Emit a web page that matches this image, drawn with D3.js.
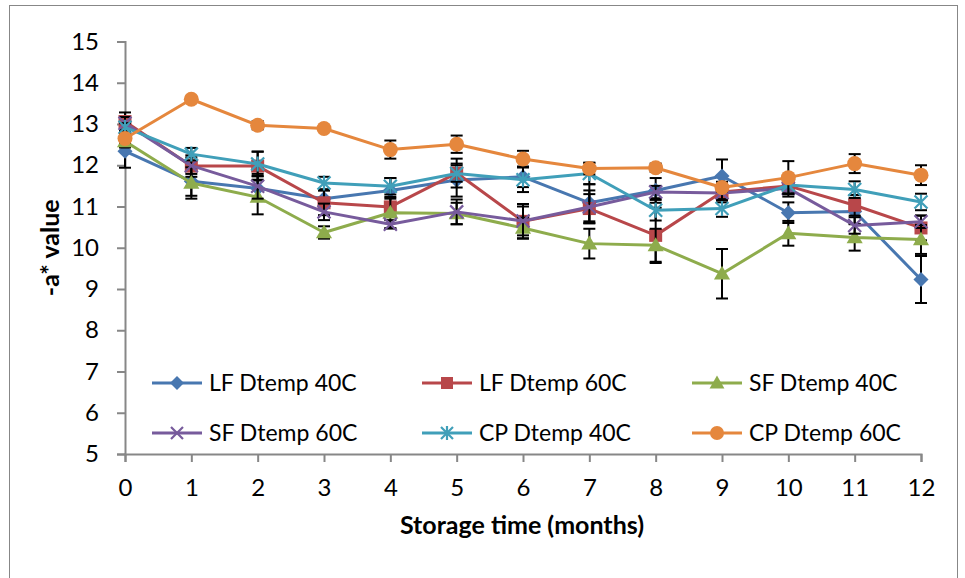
<!DOCTYPE html>
<html>
<head>
<meta charset="utf-8">
<script src="https://cdn.jsdelivr.net/npm/d3@7"></script>
<style>
  html, body { margin: 0; padding: 0; background: #fff; }
  svg { display: block; }
  svg text { font-family: Lato, "Open Sans", sans-serif; }
</style>
</head>
<body>
<svg id="chart" width="965" height="578"></svg>
<script>
// Storage time (months)
const months = [0, 1, 2, 3, 4, 5, 6, 7, 8, 9, 10, 11, 12];
const yTicks = [5, 6, 7, 8, 9, 10, 11, 12, 13, 14, 15];

// -a* values per treatment
const lf40 = [12.34, 11.61, 11.44, 11.19, 11.39, 11.64, 11.72, 11.09, 11.39, 11.74, 10.85, 10.88, 9.23];
const lf60 = [13.06, 11.98, 11.98, 11.09, 10.99, 11.81, 10.64, 10.95, 10.30, 11.35, 11.50, 11.03, 10.48];
const sf40 = [12.58, 11.57, 11.23, 10.37, 10.85, 10.83, 10.48, 10.10, 10.06, 9.37, 10.35, 10.25, 10.20];
const sf60 = [13.02, 11.99, 11.49, 10.87, 10.57, 10.87, 10.65, 10.99, 11.35, 11.33, 11.44, 10.54, 10.63];
const cp40 = [12.92, 12.27, 12.03, 11.57, 11.49, 11.80, 11.65, 11.80, 10.91, 10.95, 11.52, 11.41, 11.11];
const cp60 = [12.65, 13.60, 12.97, 12.89, 12.38, 12.51, 12.15, 11.92, 11.94, 11.46, 11.70, 12.04, 11.76];

// Standard deviations (error bars)
const lf40Err = [0.40, 0.35, 0.30, 0.20, 0.30, 0.40, 0.25, 0.45, 0.30, 0.40, 0.25, 0.30, 0.57];
const lf60Err = [0.22, 0.26, 0.35, 0.30, 0.20, 0.35, 0.42, 0.35, 0.67, 0.25, 0.20, 0.25, 0.30];
const sf40Err = [0.15, 0.38, 0.42, 0.15, 0.38, 0.26, 0.25, 0.36, 0.40, 0.60, 0.30, 0.32, 0.35];
const sf60Err = [0.15, 0.20, 0.30, 0.20, 0.10, 0.30, 0.35, 0.40, 0.15, 0.15, 0.20, 0.20, 0.15];
const cp40Err = [0.10, 0.15, 0.30, 0.15, 0.20, 0.20, 0.30, 0.26, 0.25, 0.20, 0.20, 0.20, 0.20];
const cp60Err = [0.10, 0.05, 0.10, 0.05, 0.22, 0.21, 0.20, 0.14, 0.10, 0.10, 0.40, 0.23, 0.24];

const seriesNames = ["LF Dtemp 40C", "LF Dtemp 60C", "SF Dtemp 40C", "SF Dtemp 60C", "CP Dtemp 40C", "CP Dtemp 60C"];

const series = [
  { name: seriesNames[0], values: lf40, err: lf40Err, color: "#4877b0", marker: "diamond" },
  { name: seriesNames[1], values: lf60, err: lf60Err, color: "#b8474a", marker: "square" },
  { name: seriesNames[2], values: sf40, err: sf40Err, color: "#8eac4c", marker: "triangle" },
  { name: seriesNames[3], values: sf60, err: sf60Err, color: "#775b9c", marker: "x" },
  { name: seriesNames[4], values: cp40, err: cp40Err, color: "#409fb9", marker: "asterisk" },
  { name: seriesNames[5], values: cp60, err: cp60Err, color: "#e5873d", marker: "circle" }
];

const svg = d3.select("#chart");
const axisColor = "#878787";
const FONT = 'Lato, "Open Sans", sans-serif';

// Outer chart frame
svg.append("rect")
  .attr("x", 9.5).attr("y", 5.5)
  .attr("width", 948).attr("height", 600)
  .attr("fill", "none").attr("stroke", axisColor).attr("stroke-width", 1);

const x = d3.scaleLinear().domain([0, 12]).range([125, 921]);
const y = d3.scaleLinear().domain([5, 15]).range([454, 41.5]);

// Y axis
const yAxis = svg.append("g")
  .attr("transform", `translate(${x(0)},0)`)
  .call(d3.axisLeft(y).tickValues(yTicks).tickSize(8).tickPadding(18).tickFormat(d3.format("d")));

// X axis
const xAxis = svg.append("g")
  .attr("transform", `translate(0,${y(5)})`)
  .call(d3.axisBottom(x).tickValues(months).tickSize(8).tickPadding(17).tickFormat(d3.format("d")));

[yAxis, xAxis].forEach(ax => {
  ax.attr("font-family", FONT).attr("font-size", 24);
  ax.selectAll("path, line").attr("stroke", axisColor).attr("stroke-width", 2);
  ax.selectAll("text").attr("fill", "#000");
});

// Axis titles
svg.append("text")
  .attr("x", 522).attr("y", 534)
  .attr("text-anchor", "middle")
  .attr("font-family", FONT)
  .attr("font-size", 25).attr("font-weight", "bold")
  .text("Storage time (months)");

svg.append("text")
  .attr("transform", `translate(59,${y(10)}) rotate(-90)`)
  .attr("text-anchor", "middle")
  .attr("font-family", FONT)
  .attr("font-size", 25).attr("font-weight", "bold")
  .text("-a* value");

// Marker drawing
function drawMarker(g, type, color, size) {
  const s = size;
  switch (type) {
    case "diamond": {
      const h = s * 0.58;
      g.append("path").attr("d", `M0,${-h}L${h},0L0,${h}L${-h},0Z`).attr("fill", color);
      break;
    }
    case "square":
      g.append("rect").attr("x", -s / 2).attr("y", -s / 2).attr("width", s).attr("height", s).attr("fill", color);
      break;
    case "triangle":
      g.append("path").attr("d", `M0,${-s * 0.62}L${s * 0.62},${s * 0.45}L${-s * 0.62},${s * 0.45}Z`).attr("fill", color);
      break;
    case "circle":
      g.append("circle").attr("r", s / 2 + 1).attr("fill", color);
      break;
    case "x": {
      const h = s / 2;
      g.append("path").attr("d", `M${-h},${-h}L${h},${h}M${-h},${h}L${h},${-h}`)
        .attr("stroke", color).attr("stroke-width", 2.2).attr("fill", "none");
      break;
    }
    case "asterisk": {
      const h = s / 2;
      g.append("path").attr("d", `M${-h},${-h}L${h},${h}M${-h},${h}L${h},${-h}M0,${-h - 1}L0,${h + 1}`)
        .attr("stroke", color).attr("stroke-width", 2.2).attr("fill", "none");
      break;
    }
  }
}

const line = d3.line().x((d, i) => x(months[i])).y(d => y(d));

series.forEach(s => {
  const g = svg.append("g");
  // error bars
  const eb = g.append("g").attr("stroke", "#000").attr("stroke-width", 2);
  s.values.forEach((v, i) => {
    const cx = x(months[i]);
    const top = y(v + s.err[i]), bot = y(v - s.err[i]);
    eb.append("line").attr("x1", cx).attr("x2", cx).attr("y1", top).attr("y2", bot);
    eb.append("line").attr("x1", cx - 6).attr("x2", cx + 6).attr("y1", top).attr("y2", top);
    eb.append("line").attr("x1", cx - 6).attr("x2", cx + 6).attr("y1", bot).attr("y2", bot);
  });
  // connecting line
  g.append("path").datum(s.values)
    .attr("d", line)
    .attr("fill", "none").attr("stroke", s.color)
    .attr("stroke-width", 3).attr("stroke-linejoin", "round");
  // markers
  s.values.forEach((v, i) => {
    const mg = g.append("g").attr("transform", `translate(${x(months[i])},${y(v)})`);
    drawMarker(mg, s.marker, s.color, 13);
  });
});

// Legend (3 columns x 2 rows)
const legendCols = [152, 422, 692];
const legendRows = [383, 433];
series.forEach((s, i) => {
  const lx = legendCols[i % 3], ly = legendRows[Math.floor(i / 3)];
  const g = svg.append("g").attr("transform", `translate(${lx},${ly})`);
  g.append("line").attr("x1", 0).attr("x2", 50).attr("y1", 0).attr("y2", 0)
    .attr("stroke", s.color).attr("stroke-width", 3);
  const mg = g.append("g").attr("transform", "translate(25,0)");
  drawMarker(mg, s.marker, s.color, 12);
  g.append("text").attr("x", 57).attr("y", 0).attr("dy", "0.36em")
    .attr("font-family", FONT)
    .attr("font-size", 23).attr("fill", "#000").text(s.name);
});
</script>
</body>
</html>
